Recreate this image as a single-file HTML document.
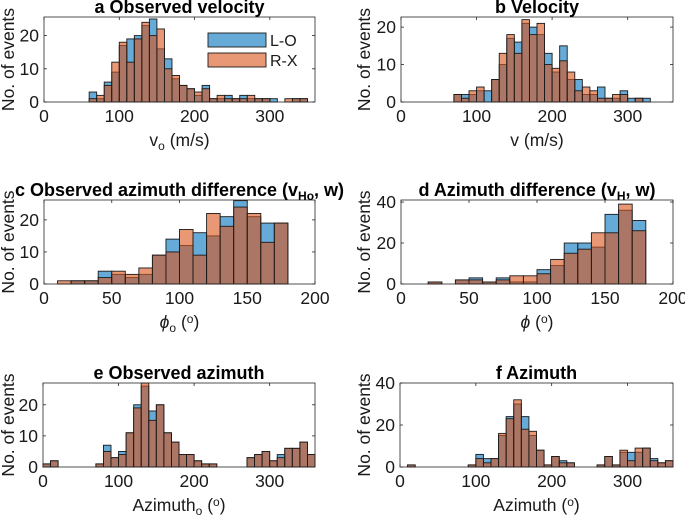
<!DOCTYPE html>
<html><head><meta charset="utf-8"><style>
body{margin:0;background:#fff;}
svg{display:block;font-family:"Liberation Sans",Arial,sans-serif;}
</style></head><body>
<svg id="fig" width="685" height="525" viewBox="0 0 685 525" xmlns="http://www.w3.org/2000/svg"></svg>
<script>
// ---- data (bin width 10, first-bin start given) ----
const aStart = 60;
const aLO = [3,1,6,9,17,19,20,23,25,16,13,7,5,4,2,5,1,1,2,1,2,1,1,1,1,0,0,1,1];
const aRX = [1,2,5,12,18,12,19,24,20,22,10,8,5,4,3,4,1,2,1,1,1,2,1,1,0,0,1,1,1];
const bStart = 70;
const bLO = [2,2,2,3,3,6,10,17,16,21,20,18,13,8,15,6,6,2,2,4,1,1,3,1,1,1];
const bRX = [2,1,3,4,0,6,13,18,13,22,18,21,10,9,11,8,3,4,3,1,1,2,2,0,1,0];
const cStart = 10;
const cLO = [0,1,1,4,3,2,3,9,14,12,16,15,21,26,21,19,19];
const cRX = [1,1,1,2,4,3,5,9,10,17,9,22,18,24,22,13,19];
const dStart = 20;
const dLO = [1,0,2,3,1,3,1,1,7,9,20,20,18,34,36,31];
const dRX = [1,0,2,2,1,2,4,4,5,12,15,17,25,25,39,26];
const eStart = 0;
const eLO = [1,2,0,0,0,0,0,1,7,3,5,11,20,26,18,20,11,8,4,4,2,1,1,0,0,0,0,3,4,5,2,4,6,6,8,4];
const eRX = [1,2,0,0,0,0,0,1,5,3,4,11,19,27,15,20,11,8,4,4,2,1,1,0,0,0,0,3,4,5,2,3,6,6,8,4];
const fStart = 10;
const fLO = [1,0,0,0,0,0,0,0,1,6,4,4,15,24,30,24,15,8,1,5,3,2,0,0,0,1,5,1,7,7,7,9,4,2,3];
const fRX = [1,0,0,0,0,0,0,0,1,4,2,4,16,23,32,18,17,8,1,5,2,2,0,0,0,1,5,1,8,3,9,9,3,2,3];
const ticks360 = [0,100,200,300];
const ticks200 = [0,50,100,150,200];

const svg = document.getElementById('fig');
const NS = 'http://www.w3.org/2000/svg';
function mk(tag, attrs, parent){
  const e = document.createElementNS(NS, tag);
  for (const k in attrs) e.setAttribute(k, attrs[k]);
  (parent||svg).appendChild(e);
  return e;
}
function panel(id, box, xmax, ymax, xticks, yticks, start, lo, rx, titleHtml, xlabelHtml, ylx){
  const g = mk('g', {});
  
  
  const [L, T, R, B] = box;
  const X = v => L + (R - L) * v / xmax;
  const Y = v => B - (B - T) * v / ymax;
  mk('rect', {x:L, y:T, width:R-L, height:B-T, fill:'#fff', stroke:'none'}, g);
  const series = [[lo, '#0072BD', 'L-O'], [rx, '#D95319', 'R-X']];
  for (const [arr, col, nm] of series){
    arr.forEach((v, i) => {
      const x0 = X(start + i*10), x1 = X(start + (i+1)*10);
      const r = mk('rect', {x:x0, y:Y(v), width:x1-x0, height:B-Y(v), fill:col, 'fill-opacity':0.6, stroke:'#1a1a1a', 'stroke-width':0.9}, g);
      
      
    });
  }
  mk('rect', {x:L, y:T, width:R-L, height:B-T, fill:'none', stroke:'#262626', 'stroke-width':0.8}, g);
  for (const t of xticks){
    mk('line', {x1:X(t), x2:X(t), y1:B, y2:B-3, stroke:'#262626','stroke-width':0.8}, g);
    mk('line', {x1:X(t), x2:X(t), y1:T, y2:T+3, stroke:'#262626','stroke-width':0.8}, g);
    const tx = mk('text', {x:X(t), y:B+20, 'text-anchor':'middle', 'font-size':17.5, fill:'#1a1a1a'}, g);
    tx.textContent = t;
    
    
  }
  for (const t of yticks){
    mk('line', {x1:L, x2:L+3, y1:Y(t), y2:Y(t), stroke:'#262626','stroke-width':0.8}, g);
    mk('line', {x1:R, x2:R-3, y1:Y(t), y2:Y(t), stroke:'#262626','stroke-width':0.8}, g);
    const ty = mk('text', {x:L-5, y:Y(t)+6, 'text-anchor':'end', 'font-size':17.5, fill:'#1a1a1a'}, g);
    ty.textContent = t;
    
    
  }
  const tt = mk('text', {x:(L+R)/2, y:T-4, 'text-anchor':'middle', 'font-size':18, 'font-weight':'bold', fill:'#000'}, g);
  tt.innerHTML = titleHtml;
  
  
  const xl = mk('text', {x:(L+R)/2, y:B+44, 'text-anchor':'middle', 'font-size':17.5, fill:'#1a1a1a'}, g);
  xl.innerHTML = xlabelHtml;
  
  
  const yl = mk('text', {x:ylx, y:(T+B)/2, 'text-anchor':'middle', 'font-size':17.5, fill:'#1a1a1a', transform:'rotate(-90 '+ylx+' '+(T+B)/2+')'}, g);
  yl.textContent = 'No. of events';
  
  
  return g;
}
const sub = s => '<tspan baseline-shift="-30%" font-size="12">'+s+'</tspan>';
const sup = s => '<tspan baseline-shift="45%" font-size="12">'+s+'</tspan>';
panel('a',[44,17,315,102],360,25.6,ticks360,[0,10,20],aStart,aLO,aRX, 'a  Observed velocity', 'v'+sub('o')+' (m/s)', 14);
panel('b',[401,17,673,102],360,22.7,ticks360,[0,10,20],bStart,bLO,bRX, 'b  Velocity', 'v (m/s)', 370);
panel('c',[44,200,315,284],200,26.2,ticks200,[0,10,20],cStart,cLO,cRX, 'c  Observed azimuth difference (v'+sub('Ho')+', w)', '<tspan font-style="italic">ϕ</tspan>'+sub('o')+' ('+sup('o')+')', 14);
panel('d',[401,200,673,284],200,41,ticks200,[0,20,40],dStart,dLO,dRX, 'd  Azimuth difference (v'+sub('H')+', w)', '<tspan font-style="italic">ϕ</tspan> ('+sup('o')+')', 370);
panel('e',[43,383,315,467],360,27,ticks360,[0,10,20],eStart,eLO,eRX, 'e  Observed azimuth', 'Azimuth'+sub('o')+' ('+sup('o')+')', 14);
panel('f',[400,383,673,467],360,40,ticks360,[0,20,40],fStart,fLO,fRX, 'f  Azimuth', 'Azimuth ('+sup('o')+')', 370);

// legend in panel a
const lg = mk('g', {});


const e1 = mk('rect', {x:208, y:33, width:58, height:14, fill:'#0072BD','fill-opacity':0.6, stroke:'#1a1a1a','stroke-width':0.9}, lg);


const t1 = mk('text', {x:270, y:46, 'font-size':16, fill:'#1a1a1a'}, lg); t1.textContent = 'L-O';


const e2 = mk('rect', {x:208, y:53, width:58, height:14, fill:'#D95319','fill-opacity':0.6, stroke:'#1a1a1a','stroke-width':0.9}, lg);


const t2 = mk('text', {x:270, y:66, 'font-size':16, fill:'#1a1a1a'}, lg); t2.textContent = 'R-X';


</script>
</body></html>
